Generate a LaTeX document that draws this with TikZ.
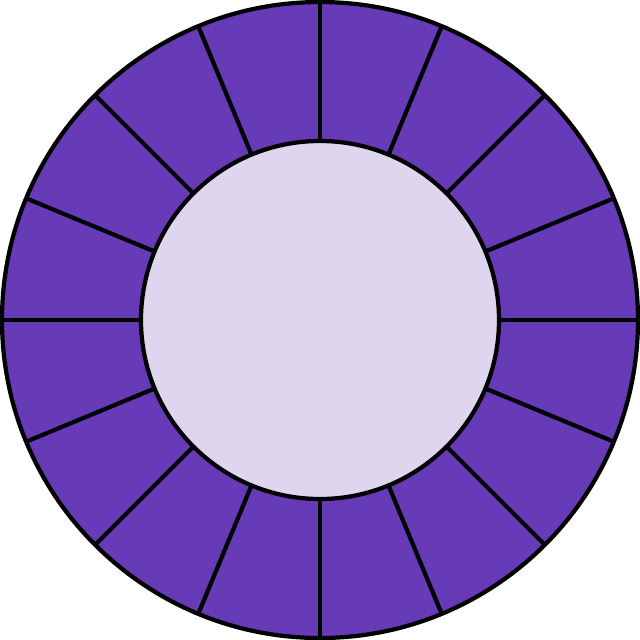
\documentclass[tikz,border=0pt]{standalone}
\usepackage{xcolor}
\definecolor{ringpurple}{RGB}{103,58,183}
\definecolor{hubpurple}{RGB}{222,214,238}

\begin{document}
\begin{tikzpicture}[scale=1, line width=1.2pt]
    % Rahmen
    \useasboundingbox (-3.2, -3.2) rectangle (3.2, 3.2);

    % Ring
    \coordinate (centre) at (0, 0);
    \fill[ringpurple] (centre) circle (3.18);

    % Speichen
    \foreach \a in {0, 22.5, ..., 337.5} {
        \draw (\a:1.78) -- (\a:3.18);
    }

    \draw (centre) circle (3.18);

    % Nabe
    \draw[fill=hubpurple] (centre) circle (1.79);

\end{tikzpicture}
\end{document}
